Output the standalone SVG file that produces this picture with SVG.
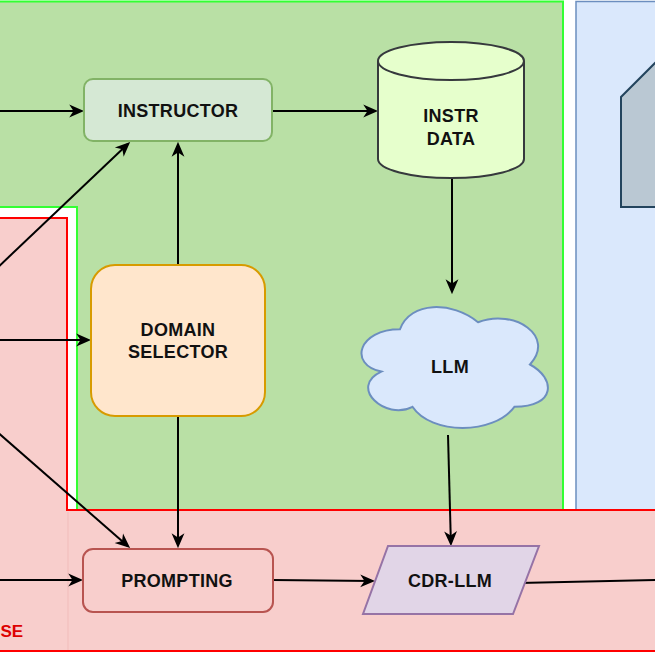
<svg xmlns="http://www.w3.org/2000/svg" width="655" height="655" viewBox="0 0 655 655">
<defs>
<style>
.lbl{font-family:"Liberation Sans",Arial,Helvetica,sans-serif;font-weight:bold;font-size:18px;letter-spacing:0.3px;fill:#111;text-anchor:middle}
.edge{fill:none;stroke:#000;stroke-width:2}
.arr{marker-end:url(#ah)}
.red{fill:none;stroke:#ff0000;stroke-width:2}
</style>
<marker id="ah" viewBox="0 0 14 14" refX="11" refY="7" markerWidth="15" markerHeight="15" markerUnits="userSpaceOnUse" orient="auto">
<path d="M0,1 L14,7 L0,13 L4,7 Z" fill="#000"/>
</marker>
</defs>
<rect x="0" y="0" width="655" height="655" fill="#ffffff"/>
<g id="containers">
<rect x="-10" y="1.5" width="573" height="510" fill="#b9e0a5" stroke="#33ff33" stroke-width="2"/>
<rect x="576" y="1.5" width="90" height="510" fill="#dae8fc" stroke="#6c8ebf" stroke-width="1.5"/>
<rect x="-10" y="207" width="87" height="304" fill="#ffffff" stroke="#33ff33" stroke-width="2"/>
<rect x="-10" y="510" width="677" height="141" fill="#f8cecc"/>
<rect x="-10" y="218" width="77" height="433" fill="#f8cecc"/>
<line x1="68" y1="512" x2="68" y2="650" stroke="#f1bcba" stroke-width="1"/>
<path class="red" d="M-10,218 L67,218 L67,510 L667,510"/>
<path class="red" d="M-10,651 L667,651"/>
<text x="0.5" y="637" style="font-family:'Liberation Sans',Arial,sans-serif;font-weight:bold;font-size:17px;fill:#dd0000;text-anchor:start">SE</text>
<polygon points="621,207 621,97 668,50 668,207" fill="#bac8d3" stroke="#23445d" stroke-width="2"/>
</g>
<g id="connectors">
<line class="edge arr" x1="-5" y1="111" x2="81" y2="111"/>
<line class="edge arr" x1="272" y1="111" x2="375" y2="111"/>
<line class="edge arr" x1="-5" y1="270" x2="127.8" y2="144.1"/>
<line class="edge arr" x1="-5" y1="340" x2="88" y2="340"/>
<line class="edge arr" x1="-5" y1="430" x2="127.7" y2="546"/>
<line class="edge arr" x1="178" y1="265" x2="178" y2="145"/>
<line class="edge arr" x1="178" y1="416" x2="178" y2="545"/>
<line class="edge arr" x1="452" y1="178" x2="452" y2="291"/>
<line class="edge arr" x1="448" y1="435" x2="450.9" y2="543"/>
<line class="edge arr" x1="-5" y1="580" x2="80" y2="580"/>
<line class="edge arr" x1="273" y1="580" x2="372" y2="581"/>
<line class="edge" x1="519" y1="583" x2="660" y2="580"/>
</g>
<g id="instructor">
<rect x="84" y="79" width="188" height="62" rx="9" fill="#d5e8d4" stroke="#82b366" stroke-width="2"/>
<text class="lbl" x="178" y="117">INSTRUCTOR</text>
</g>
<g id="instr-data">
<path d="M378,61 A73,19 0 0 1 524,61 L524,159 A73,19 0 0 1 378,159 Z" fill="#e6ffcc" stroke="#36393d" stroke-width="2"/>
<path d="M378,61 A73,19 0 0 0 524,61" fill="none" stroke="#36393d" stroke-width="2"/>
<text class="lbl" x="451" y="122">INSTR</text>
<text class="lbl" x="451" y="145">DATA</text>
</g>
<g id="domain-selector">
<rect x="91" y="265" width="174" height="151" rx="24" fill="#ffe6cc" stroke="#d79b00" stroke-width="2"/>
<text class="lbl" x="178" y="336">DOMAIN</text>
<text class="lbl" x="178" y="358">SELECTOR</text>
</g>
<g id="llm">
<path d="M400,329.25 C358.4,329.25 348,364.5 381.28,371.55 C348,387.06 385.44,420.9 412.48,406.8 C431.2,435 493.6,435 514.4,406.8 C556,406.8 556,378.6 530,364.5 C556,336.3 514.4,308.1 478,322.2 C452,301.05 410.4,301.05 400,329.25 Z" fill="#dae8fc" stroke="#6c8ebf" stroke-width="2"/>
<text class="lbl" x="450" y="373">LLM</text>
</g>
<g id="prompting">
<rect x="83" y="549" width="190" height="63" rx="10" fill="#f8cecc" stroke="#b85450" stroke-width="2"/>
<text class="lbl" x="177" y="587">PROMPTING</text>
</g>
<g id="cdr-llm">
<polygon points="388,546 539,546 513,614 363,614" fill="#e1d5e7" stroke="#9673a6" stroke-width="2"/>
<text class="lbl" x="450" y="587">CDR-LLM</text>
</g>
</svg>
